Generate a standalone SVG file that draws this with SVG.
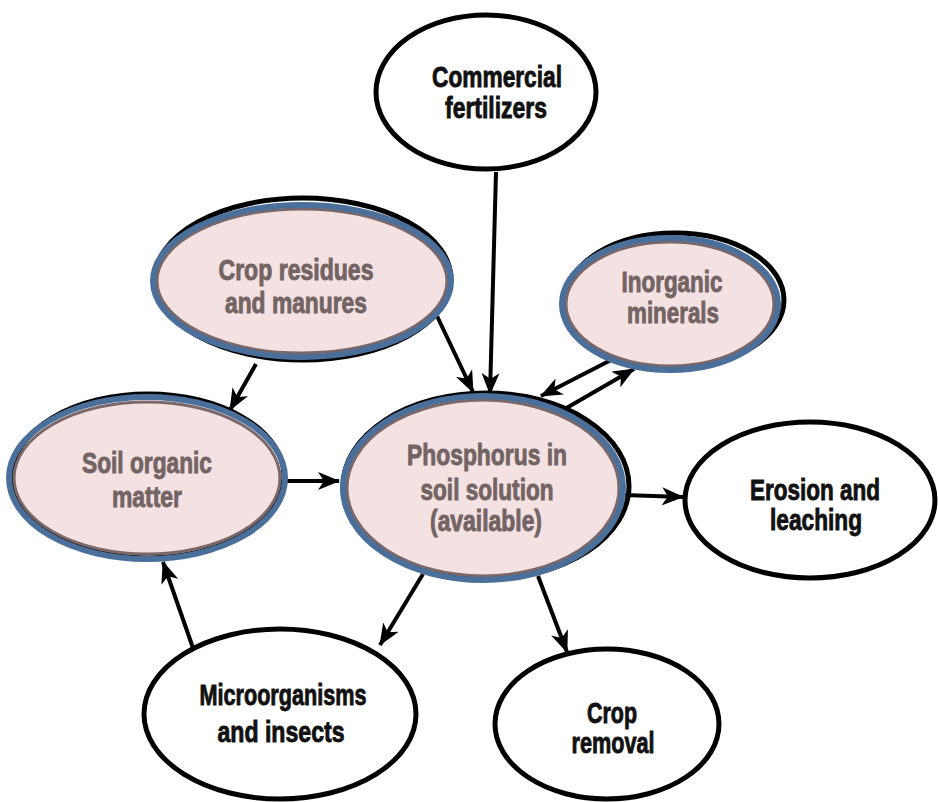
<svg xmlns="http://www.w3.org/2000/svg" width="938" height="802" viewBox="0 0 938 802">
<style>
.wn{fill:#fff;stroke:#000;stroke-width:5}
.sh{fill:none;stroke:#000;stroke-width:5}
.pf{fill:#f4e1e1;stroke:#7b6767;stroke-width:3}
.pb{fill:none;stroke:#4a6f9b;stroke-width:6}
.t{font-family:"Liberation Sans",Arial,sans-serif;font-weight:bold;font-size:30px;text-anchor:middle;stroke-width:0.9}
.tb{fill:#111;stroke:#111}
.tp{fill:#736464;stroke:#736464}
.c{fill:none;stroke:#000;stroke-width:4;marker-end:url(#ah)}
</style>
<defs>
<marker id="ah" markerUnits="userSpaceOnUse" viewBox="0 0 22 18" refX="21" refY="9" markerWidth="22" markerHeight="18" orient="auto">
<path d="M0,0 L22,9 L0,18 L6,9 Z" fill="#000"/>
</marker>
</defs>
<rect width="938" height="802" fill="#fff"/>
<g id="connectors">
<line class="c" x1="496" y1="172" x2="490" y2="394"/>
<line class="c" x1="437" y1="316" x2="473" y2="392"/>
<line class="c" x1="256" y1="364" x2="230" y2="410"/>
<line class="c" x1="286" y1="481" x2="339" y2="481"/>
<line class="c" x1="611" y1="360" x2="541" y2="396"/>
<line class="c" x1="563" y1="410" x2="634" y2="369"/>
<line class="c" x1="624" y1="495" x2="683" y2="497"/>
<line class="c" x1="423" y1="574" x2="380" y2="645"/>
<line class="c" x1="538" y1="576" x2="567" y2="652"/>
<line class="c" x1="193" y1="648" x2="163" y2="562"/>
</g>
<g id="commercial">
<ellipse class="wn" cx="486" cy="92" rx="110" ry="77"/>
<text class="t tb"><tspan x="497" y="87" textLength="130" lengthAdjust="spacingAndGlyphs">Commercial</tspan><tspan x="496" y="118" textLength="102" lengthAdjust="spacingAndGlyphs">fertilizers</tspan></text>
</g>
<g id="crop-residues">
<ellipse class="sh" cx="303" cy="279" rx="148" ry="81"/>
<ellipse class="pf" cx="302" cy="281" rx="145" ry="72"/>
<ellipse class="pb" cx="302" cy="281" rx="149" ry="76"/>
<text class="t tp"><tspan x="296" y="280" textLength="155" lengthAdjust="spacingAndGlyphs">Crop residues</tspan><tspan x="296" y="313" textLength="142" lengthAdjust="spacingAndGlyphs">and manures</tspan></text>
</g>
<g id="inorganic">
<ellipse class="sh" cx="675" cy="300" rx="109" ry="67"/>
<ellipse class="pf" cx="670" cy="304" rx="104" ry="62"/>
<ellipse class="pb" cx="670" cy="304" rx="108" ry="66"/>
<text class="t tp"><tspan x="672" y="292" textLength="101" lengthAdjust="spacingAndGlyphs">Inorganic</tspan><tspan x="673" y="323" textLength="92" lengthAdjust="spacingAndGlyphs">minerals</tspan></text>
</g>
<g id="soil-organic">
<ellipse class="sh" cx="148" cy="476" rx="136" ry="82"/>
<ellipse class="pf" cx="147" cy="478" rx="133" ry="76"/>
<ellipse class="pb" cx="147" cy="478" rx="138" ry="81"/>
<text class="t tp"><tspan x="147" y="473" textLength="130" lengthAdjust="spacingAndGlyphs">Soil organic</tspan><tspan x="147" y="507" textLength="70" lengthAdjust="spacingAndGlyphs">matter</tspan></text>
</g>
<g id="phosphorus">
<ellipse class="sh" cx="486" cy="486" rx="143" ry="93"/>
<ellipse class="pf" cx="483" cy="488" rx="136" ry="88"/>
<ellipse class="pb" cx="483" cy="488" rx="140" ry="92"/>
<text class="t tp"><tspan x="487" y="465" textLength="160" lengthAdjust="spacingAndGlyphs">Phosphorus in</tspan><tspan x="487" y="500" textLength="133" lengthAdjust="spacingAndGlyphs">soil solution</tspan><tspan x="486" y="531" textLength="112" lengthAdjust="spacingAndGlyphs">(available)</tspan></text>
</g>
<g id="erosion">
<ellipse class="wn" cx="810" cy="500" rx="125" ry="78"/>
<text class="t tb"><tspan x="815" y="500" textLength="130" lengthAdjust="spacingAndGlyphs">Erosion and</tspan><tspan x="816" y="530" textLength="92" lengthAdjust="spacingAndGlyphs">leaching</tspan></text>
</g>
<g id="microorganisms">
<ellipse class="wn" cx="280" cy="714" rx="136" ry="85"/>
<text class="t tb"><tspan x="283" y="705" textLength="167" lengthAdjust="spacingAndGlyphs">Microorganisms</tspan><tspan x="281" y="742" textLength="127" lengthAdjust="spacingAndGlyphs">and insects</tspan></text>
</g>
<g id="crop-removal">
<ellipse class="wn" cx="607" cy="724" rx="112" ry="75"/>
<text class="t tb"><tspan x="612" y="723" textLength="50" lengthAdjust="spacingAndGlyphs">Crop</tspan><tspan x="613" y="753" textLength="83" lengthAdjust="spacingAndGlyphs">removal</tspan></text>
</g>
</svg>
